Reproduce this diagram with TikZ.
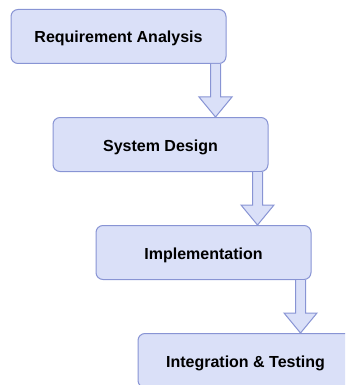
\documentclass[tikz,border=0pt]{standalone}
\usepackage{fontspec}
\setmainfont{Liberation Sans}
\usetikzlibrary{positioning, calc}

\definecolor{phasefill}{RGB}{218,224,248}
\definecolor{phaseline}{RGB}{136,148,212}

% block arrow from the bottom right of one phase to the top of the next
\newcommand{\fatarrow}[2]{%
  \coordinate (#1_top) at ($(#1.south east)+(-11,0)$);
  \coordinate (#1_tip) at (#1_top |- #2.north);
  \draw[flow] ($(#1_top)+(-5,0)$) -- ($(#1_tip)+(-5,20)$) -- ($(#1_tip)+(-16.5,20)$)
    -- (#1_tip) -- ($(#1_tip)+(16.5,20)$) -- ($(#1_tip)+(5,20)$) -- ($(#1_top)+(5,0)$);
}

\begin{document}
\begin{tikzpicture}[
    x=1pt, y=1pt,
    node distance = 53pt,
    font=\fontsize{16}{19}\selectfont\bfseries,
    phase/.style = {draw=phaseline, fill=phasefill, line width=1pt, rounded corners=7pt, minimum width=215pt, minimum height=54pt, text height=15pt, text depth=2pt, align=center},
    flow/.style = {draw=phaseline, fill=phasefill, line width=1pt, line join=miter}
]
\useasboundingbox (0,0) rectangle (345,-385);
\clip (0,0) rectangle (345,-385);

% =========================================================
% PHASES (staircase, each step shifted right)
% =========================================================
\node[phase] (req) at (118.5,-36.5) {Requirement Analysis};
\node[phase, below=53pt of req, xshift=42pt] (design) {System Design};
\node[phase, below=53pt of design, xshift=43pt] (impl) {Implementation};
\node[phase, below=53pt of impl, xshift=42pt] (test) {Integration \& Testing};

% =========================================================
% ARROWS between phases
% =========================================================
\fatarrow{req}{design}
\fatarrow{design}{impl}
\fatarrow{impl}{test}

\end{tikzpicture}
\end{document}
